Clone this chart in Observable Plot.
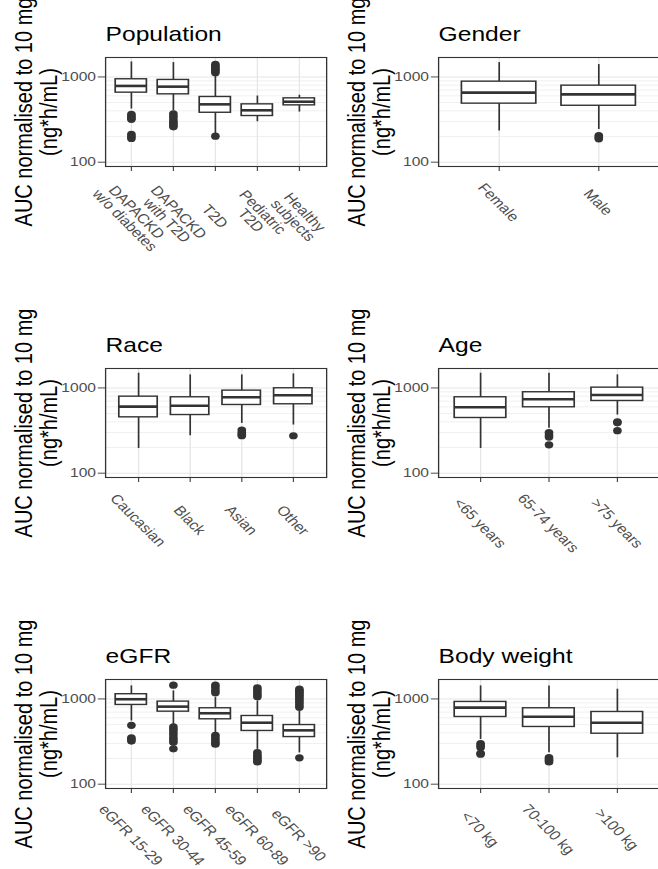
<!DOCTYPE html>
<html>
<head>
<meta charset="utf-8">
<script src="https://cdn.jsdelivr.net/npm/d3@7"></script>
<script src="https://cdn.jsdelivr.net/npm/@observablehq/plot@0.6"></script>
<style>
  html, body { margin: 0; padding: 0; background: #fff; overflow: hidden; }
  #figure { position: relative; width: 658px; height: 869px; overflow: hidden; background: #fff; }
  .panel { position: absolute; }
</style>
</head>
<body>
<div id="figure"></div>
<script>
// Box statistics per group: [lower whisker, Q1, median, Q3, upper whisker]
const populationGroups = ["DAPACKD\nw/o diabetes", "DAPACKD\nwith T2D", "T2D", "Pediatric\nT2D", "Healthy\nsubjects"];
const populationStats = [
  [420, 654, 784, 939, 1500],
  [400, 625, 769, 922, 1473],
  [215, 380, 477, 582, 1050],
  [298, 348, 406, 477, 597],
  [387, 464, 512, 561, 609]
];
const populationOutliers = [
  [365, 345, 330, 318, 212, 200, 190],
  [370, 345, 320, 300, 285, 270, 260],
  [202, 1120, 1170, 1220, 1270, 1330, 1400],
  [],
  []
];

const genderGroups = ["Female", "Male"];
const genderStats = [
  [232, 486, 654, 880, 1473],
  [242, 459, 625, 790, 1396]
];
const genderOutliers = [[], [205, 195, 188]];

const raceGroups = ["Caucasian", "Black", "Asian", "Other"];
const raceStats = [
  [195, 452, 603, 790, 1489],
  [275, 481, 619, 777, 1422],
  [384, 631, 777, 930, 1422],
  [367, 643, 821, 991, 1462]
];
const raceOutliers = [[], [], [320, 300, 285, 275], [275]];

const ageGroups = ["<65 years", "65-74 years", ">75 years"];
const ageStats = [
  [195, 444, 593, 777, 1489],
  [336, 593, 736, 890, 1489],
  [481, 703, 827, 1008, 1422]
];
const ageOutliers = [[], [300, 280, 265, 215], [400, 390, 315]];

const egfrGroups = ["eGFR 15-29", "eGFR 30-44", "eGFR 45-59", "eGFR 60-89", "eGFR >90"];
const egfrStats = [
  [551, 850, 992, 1136, 1422],
  [503, 709, 812, 930, 1242],
  [402, 577, 679, 777, 1036],
  [256, 421, 526, 631, 947],
  [233, 357, 428, 494, 736]
];
const egfrOutliers = [
  [490, 350, 335, 320],
  [1450, 470, 440, 410, 380, 350, 330, 310, 260],
  [1450, 1350, 1250, 1180, 375, 350, 330, 310, 295],
  [1350, 1280, 1200, 1120, 1060, 235, 220, 210, 200, 190, 182],
  [1300, 1250, 1200, 1150, 1100, 1050, 1000, 950, 900, 850, 800, 204]
];

const weightGroups = ["<70 kg", "70-100 kg", ">100 kg"];
const weightStats = [
  [335, 614, 790, 922, 1422],
  [233, 469, 619, 777, 1422],
  [204, 391, 526, 703, 1300]
];
const weightOutliers = [[300, 285, 270, 230, 225], [205, 195, 188, 182], []];

// Axis breaks and labels shared by every panel
const majorBreaks = [100, 1000];
const minorBreaks = [200, 300, 400, 500, 600, 700, 800, 900];
const yDomain = [89, 1690];
const yLabel = "AUC normalised to 10 mg\n(ng*h/mL)";

// labelDrop: distance from the panel bottom to the centre of the rotated group labels
const panels = [
  {title: "Population", groups: populationGroups, stats: populationStats, outliers: populationOutliers, labelDrop: 50},
  {title: "Gender", groups: genderGroups, stats: genderStats, outliers: genderOutliers, labelDrop: 36},
  {title: "Race", groups: raceGroups, stats: raceStats, outliers: raceOutliers, labelDrop: 43},
  {title: "Age", groups: ageGroups, stats: ageStats, outliers: ageOutliers, labelDrop: 46},
  {title: "eGFR", groups: egfrGroups, stats: egfrStats, outliers: egfrOutliers, labelDrop: 47},
  {title: "Body weight", groups: weightGroups, stats: weightStats, outliers: weightOutliers, labelDrop: 41}
];

// Layout: each panel is drawn in a narrower space, then widened horizontally
const STRETCH = 1.2;
const ML = 87.5, PW = 184.2, MR = 2, MT = 57, PH = 109, MB = 110;
const W0 = ML + PW + MR, H = MT + PH + MB;
const COL_LEFT = [0, 333];
const ROW_TOP = [0, 311, 622];
const INK = "#333333";
const FONT = "'Liberation Sans', Arial, Helvetica, sans-serif";

function drawPanel({title, groups, stats, outliers, labelDrop}) {
  const boxes = groups.map((g, i) => ({
    group: g, lo: stats[i][0], q1: stats[i][1], med: stats[i][2], q3: stats[i][3], hi: stats[i][4]
  }));
  const points = groups.flatMap((g, i) => outliers[i].map(v => ({group: g, value: v})));

  const svg = Plot.plot({
    width: W0,
    height: H,
    marginLeft: ML,
    marginRight: MR,
    marginTop: MT,
    marginBottom: MB,
    style: {fontFamily: FONT, fontSize: "13px", color: "#4d4d4d", background: "transparent", overflow: "visible"},
    x: {type: "band", domain: groups, paddingInner: 0.25, paddingOuter: 0.225,
        tickSize: 5, tickFormat: () => "", label: null},
    y: {type: "log", domain: yDomain, ticks: majorBreaks, tickFormat: d => String(d),
        tickSize: 6, tickPadding: 2, label: null},
    marks: [
      Plot.ruleY(minorBreaks, {stroke: "#eeeeee", strokeWidth: 0.8}),
      Plot.ruleY(majorBreaks, {stroke: "#e6e6e6", strokeWidth: 1.1}),
      Plot.ruleX(groups, {x: d => d, stroke: "#e6e6e6", strokeWidth: 1.1}),
      Plot.ruleX(boxes, {x: "group", y1: "lo", y2: "hi", stroke: INK, strokeWidth: 1.4}),
      Plot.barY(boxes, {x: "group", y1: "q1", y2: "q3", fill: "white", stroke: INK, strokeWidth: 1.4, inset: 0}),
      Plot.tickY(boxes, {x: "group", y: "med", stroke: INK, strokeWidth: 2.6}),
      Plot.dot(points, {x: "group", y: "value", r: 3.6, fill: INK, stroke: "none"}),
      Plot.frame({stroke: INK, strokeWidth: 1.1}),
      Plot.text([title], {frameAnchor: "top-left", text: d => d, dy: -23, textAnchor: "start",
        lineAnchor: "middle", fontSize: 20.5, fill: "black"}),
      Plot.text([yLabel], {frameAnchor: "left", text: d => d, rotate: -90, dx: -57.5,
        textAnchor: "middle", lineAnchor: "middle", lineHeight: 1.04, fontSize: 20, fill: "black"}),
      Plot.text(groups, {x: d => d, frameAnchor: "bottom", text: d => d, rotate: 50,
        textAnchor: "middle", lineAnchor: "middle", lineHeight: 0.95, dx: -0.8, dy: labelDrop,
        fontSize: 13.5, fill: "#4d4d4d"})
    ]
  });

  svg.setAttribute("viewBox", `0 0 ${W0} ${H}`);
  svg.setAttribute("preserveAspectRatio", "none");
  svg.setAttribute("width", W0 * STRETCH);
  svg.setAttribute("height", H);
  svg.style.width = `${W0 * STRETCH}px`;
  svg.style.height = `${H}px`;
  svg.style.maxWidth = "none";
  return svg;
}

const figure = document.getElementById("figure");
panels.forEach((p, i) => {
  const wrap = document.createElement("div");
  wrap.className = "panel";
  wrap.style.left = `${COL_LEFT[i % 2]}px`;
  wrap.style.top = `${ROW_TOP[Math.floor(i / 2)]}px`;
  wrap.appendChild(drawPanel(p));
  figure.appendChild(wrap);
});
</script>
</body>
</html>
